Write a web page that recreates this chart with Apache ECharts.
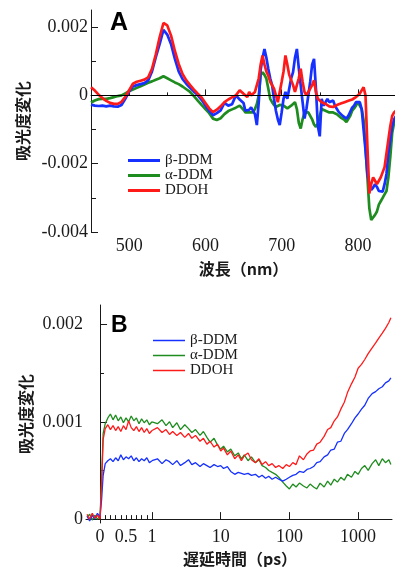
<!DOCTYPE html>
<html>
<head>
<meta charset="utf-8">
<script src="https://cdn.jsdelivr.net/npm/echarts@6/dist/echarts.min.js"></script>
<style>
  html, body { margin: 0; padding: 0; background: #fff; }
  #chart { width: 395px; height: 567px; }
</style>
</head>
<body>
<div id="chart"></div>
<script>
// ---- Panel A: difference spectra ----
const wavelengths = [
  450,455,460,465,470,475,480,485,490,495,500,505,510,515,520,525,530,535,540,545,
  550,555,560,565,570,575,580,585,590,595,600,605,610,615,620,625,630,635,640,645,650,
  652.5,655,657.5,660,662.5,665,667.5,670,672.5,675,677.5,680,682.5,685,687.5,690,692.5,695,697.5,700,
  702.5,705,707.5,710,712.5,715,717.5,720,722.5,725,727.5,730,732.5,735,737.5,740,742.5,745,747.5,750,
  752.5,755,757.5,760,762.5,765,767.5,770,772.5,775,777.5,780,782.5,785,787.5,790,792.5,795,797.5,800,
  802.5,805,807.5,810,812.5,815,817.5,820,822.5,825,827.5,830,832.5,835,837.5,840,842.5,845,847.5,850
];
const betaA = [
  -0.00027,-0.0003,-0.00031,-0.0003,-0.00032,-0.0003,-0.00032,-0.00033,-0.00028,-0.0001,
  0.00012,0.00026,0.0003,0.00033,0.00036,0.00044,0.0007,0.00112,0.0015,0.00192,
  0.00178,0.0015,0.00107,0.0007,0.00048,0.00034,0.00022,0.00011,0.00001,-0.00013,
  -0.0003,-0.00045,-0.00058,-0.00052,-0.00044,-0.00022,-0.0003,-0.00026,0.0,-0.00012,-0.00022,
  -0.00045,-0.0005,-0.00042,-0.00035,-0.00034,-0.00055,-0.00087,-0.0002,0.00075,0.0011,
  0.00136,0.0011,0.00078,0.0005,0.0003,-0.0001,-0.00045,-0.0007,-0.00087,-0.0005,
  -0.0001,0.0001,-0.0001,0.0002,0.0005,0.00068,0.0011,0.00136,0.0008,0.0003,
  -0.0002,-0.00068,-0.0004,0.0,0.0004,0.0009,0.00107,0.0002,-0.0009,-0.0012,
  -0.0001,-0.0003,-0.00034,-0.0001,-0.0002,-0.0002,-0.00015,-0.0003,-0.0004,-0.00049,
  -0.00052,-0.0006,-0.00065,-0.00068,-0.0006,-0.00048,-0.00036,-0.0003,-0.0002,-0.00015,
  -0.0002,-0.0004,-0.001,-0.0016,-0.0023,-0.0026,-0.00277,-0.0027,-0.0026,-0.00268,
  -0.0028,-0.0028,-0.00282,-0.0026,-0.0023,-0.0017,-0.0013,-0.0009,-0.0007,-0.0006
];
const alphaA = [
  -0.00021,-0.00015,-0.00011,-0.0001,-0.0001,-0.00008,-0.00005,-0.00002,0.0,0.00006,
  0.00012,0.00017,0.00022,0.00027,0.00032,0.00037,0.00041,0.00046,0.0005,0.00056,
  0.0005,0.00044,0.00038,0.00033,0.00026,0.00018,0.0001,-0.00002,-0.00015,-0.00028,
  -0.0004,-0.00052,-0.00068,-0.00072,-0.00067,-0.00055,-0.00046,-0.00041,-0.00036,-0.0003,-0.00042,
  -0.0005,-0.00053,-0.0005,-0.00048,-0.0005,-0.0004,-0.00025,0.0,0.0006,0.00068,
  0.0006,0.00049,0.0002,-0.0001,-0.0002,-0.00028,-0.00034,-0.0003,-0.00028,-0.0003,
  -0.0003,-0.00035,-0.00038,-0.0004,-0.0003,-0.00025,-0.0002,-0.0004,-0.0008,-0.00097,
  -0.0007,-0.0005,-0.0005,-0.0005,-0.00053,-0.0007,-0.00085,-0.00092,-0.00083,-0.0006,
  -0.0004,-0.0004,-0.00045,-0.0005,-0.0005,-0.0005,-0.0005,-0.00052,-0.00055,-0.0006,
  -0.00065,-0.00068,-0.00072,-0.00078,-0.0008,-0.0006,-0.00045,-0.00038,-0.0003,-0.0002,
  -0.00025,-0.0004,-0.00073,-0.0015,-0.0024,-0.0033,-0.00365,-0.0037,-0.0035,-0.0034,
  -0.0032,-0.0031,-0.003,-0.0029,-0.0028,-0.0024,-0.0018,-0.0011,-0.0008,-0.0007
];
const ddohA = [
  0.00024,0.00014,0.00002,-0.00008,-0.00016,-0.00022,-0.00025,-0.00025,-0.00019,-0.00004,
  0.00015,0.00034,0.0004,0.00043,0.00046,0.00053,0.00078,0.0012,0.0017,0.00212,
  0.00205,0.00175,0.0013,0.00092,0.00063,0.00044,0.0003,0.00017,0.00005,-0.00006,
  -0.00022,-0.00038,-0.00049,-0.00042,-0.00032,-0.0002,-0.00012,-0.00006,0.0,0.00015,0.00005,
  0.0,-0.00005,0.0001,0.0,0.0,0.0001,0.0003,0.0005,0.0009,0.00117,
  0.0009,0.0007,0.00058,0.0004,0.00035,0.0002,0.0,-0.0002,0.0001,0.00039,
  0.0007,0.00117,0.0009,0.0006,0.00058,0.0003,0.0001,0.0003,0.0005,0.00078,
  0.0004,0.0001,0.0,0.0001,0.0002,0.0003,0.00044,0.0001,-0.0001,-0.00015,
  -0.0002,-0.0002,-0.00025,-0.0003,-0.00032,-0.00034,-0.00034,-0.0003,-0.00028,-0.00025,
  -0.00024,-0.00024,-0.0002,-0.00018,-0.00016,-0.00015,-0.00012,-0.0001,-0.00005,0.0,
  0.00005,0.0001,0.00024,0.0,-0.0015,-0.00287,-0.0026,-0.0024,-0.0025,-0.0026,
  -0.0025,-0.0024,-0.0024,-0.0021,-0.0017,-0.0013,-0.0009,-0.0006,-0.0005,-0.00045
];
const wlLabels = [500, 600, 700, 800];
const wlMinor = [550, 650, 750];
const absTicksA = [-0.004, -0.002, 0, 0.002];
const absMinorA = [-0.003, -0.001, 0.001];

// ---- Panel B: kinetics (linear up to 1 ps, log after) ----
const delays = [
  -0.25,-0.2,-0.15,-0.1,-0.05,0,0.03,0.06,0.1,0.15,0.2,0.25,0.3,0.35,0.4,0.45,0.5,0.55,0.6,0.65,0.7,0.75,0.8,0.85,0.9,0.95,1,
  1.2,1.4,1.6,1.8,2,2.3,2.6,3,3.4,3.8,
  4.3,5,5.6,6.3,7,8,9,10,11,12.5,
  14,16,18,20,22,25,28,32,36,40,
  45,50,56,63,70,80,90,100,112,125,
  140,160,180,200,225,250,280,320,360,400,
  450,500,560,630,700,800,900,1000,1120,1250,
  1400,1600,1800,2000,2250,2500,2800,3000
];
const betaB = [
  0.00003,-0.00002,0.00004,0.0,0.00006,0.00002,0.0002,0.00045,0.00057,0.0006,0.00062,0.00059,0.00063,0.0006,0.00066,0.00061,0.00064,0.00062,0.00065,0.0006,0.00063,0.00059,0.00062,0.0006,0.00063,0.00058,0.0006,
  0.00062,0.00057,0.00061,0.00059,0.00056,0.0006,0.00055,0.00058,0.00061,0.00056,
  0.00058,0.00054,0.00057,0.00055,0.00053,0.00056,0.00054,0.00055,0.00052,0.00054,
  0.00049,0.00046,0.00048,0.00047,0.00046,0.00047,0.00045,0.00046,0.00043,0.00045,
  0.00042,0.00044,0.00041,0.00043,0.00041,0.00039,0.00041,0.00043,0.00045,0.00046,
  0.00049,0.00048,0.00051,0.00052,0.00054,0.00058,0.00059,0.00064,0.00066,0.00071,
  0.00072,0.00079,0.0008,0.00088,0.00092,0.00098,0.00104,0.00108,0.00113,0.00117,
  0.00124,0.00129,0.00131,0.00134,0.00136,0.0014,0.00142,0.00145
];
const alphaB = [
  0.00002,0.00005,-0.00001,0.00004,0.0,0.00003,0.0004,0.00088,0.00098,0.00104,0.00108,0.00102,0.00107,0.00101,0.00105,0.00099,0.00104,0.001,0.00106,0.00101,0.00104,0.00098,0.00103,0.00099,0.00102,0.00097,0.001,
  0.00098,0.00102,0.00096,0.001,0.00094,0.00099,0.00092,0.00097,0.00093,0.00089,
  0.00092,0.00086,0.0009,0.00084,0.00079,0.00083,0.00076,0.00072,0.00075,0.00069,
  0.00072,0.00065,0.00068,0.00062,0.00066,0.0006,0.00064,0.00058,0.00061,0.00055,
  0.00053,0.0005,0.00048,0.00046,0.00043,0.00038,0.00034,0.00031,0.00036,0.00033,
  0.00037,0.00034,0.00032,0.00036,0.00033,0.00031,0.00037,0.00033,0.00039,0.00035,
  0.00041,0.00038,0.00043,0.0004,0.00046,0.00043,0.00049,0.00046,0.00052,0.00055,
  0.0005,0.00057,0.00061,0.00055,0.00062,0.00058,0.00061,0.00056
];
const ddohB = [
  0.00005,0.0,0.00006,0.00001,0.00004,0.0,0.00035,0.00082,0.00093,0.00097,0.00092,0.00096,0.00091,0.00095,0.0009,0.00096,0.00092,0.00101,0.00094,0.00091,0.00095,0.0009,0.00094,0.00089,0.00093,0.00088,0.00091,
  0.00094,0.00089,0.00092,0.00087,0.0009,0.00086,0.00089,0.00084,0.00088,0.00083,
  0.00086,0.0008,0.00083,0.00077,0.0008,0.00074,0.00077,0.0007,0.00073,0.00066,
  0.0007,0.00062,0.00066,0.0006,0.00065,0.00068,0.00061,0.00058,0.00062,0.00056,
  0.00059,0.00055,0.00057,0.00053,0.00055,0.00052,0.00056,0.00054,0.00058,0.00056,
  0.00065,0.00061,0.00067,0.0007,0.00071,0.00077,0.00079,0.00085,0.00092,0.00094,
  0.00101,0.00105,0.00113,0.0012,0.0013,0.00139,0.00146,0.00155,0.00159,0.00164,
  0.0017,0.00176,0.00181,0.00186,0.00191,0.00196,0.00202,0.00207
];
const delayLinLabels = [0, 0.5];
const delayLinTicks = [0.1, 0.2, 0.3, 0.4, 0.5, 0.6, 0.7, 0.8, 0.9];
const delayLogTicks = [1, 10, 100, 1000];
const absTicksB = [0, 0.001, 0.002];
const absMinorB = [0.0005, 0.0015];

const names = ['β-DDM', 'α-DDM', 'DDOH'];
const colors = { 'β-DDM': '#1530ff', 'α-DDM': '#1f8c1f', 'DDOH': '#ff1a1a' };

const serif = '"Liberation Serif", "DejaVu Serif", serif';
const jp = '"Noto Sans CJK JP", sans-serif';
const ink = '#1a1a1a';

const absFmt = v => (v === 0 ? '0' : v.toFixed(3));
const pairs = (xs, ys) => xs.map((x, i) => [x, ys[i]]);
const linPart = ys => delays.map((t, i) => [t, ys[i]]).filter(p => p[0] <= 1);
const logPart = ys => delays.map((t, i) => [t, ys[i]]).filter(p => p[0] >= 1);

const chart = echarts.init(document.getElementById('chart'));

const majorAxis = {
  axisLine: { show: true, lineStyle: { color: ink, width: 1 } },
  splitLine: { show: false },
  axisLabel: { color: ink, fontFamily: serif, fontSize: 18 }
};
const minorAxis = {
  axisLine: { show: false },
  axisLabel: { show: false },
  splitLine: { show: false }
};

const spectraA = { 'β-DDM': betaA, 'α-DDM': alphaA, 'DDOH': ddohA };
const kineticsB = { 'β-DDM': betaB, 'α-DDM': alphaB, 'DDOH': ddohB };
const drawOrder = ['α-DDM', 'β-DDM', 'DDOH'];

const series = [];
drawOrder.forEach((n, k) => {
  const s = {
    name: n, type: 'line', xAxisIndex: 0, yAxisIndex: 0,
    data: pairs(wavelengths, spectraA[n]),
    symbol: 'none', color: colors[n],
    lineStyle: { width: 2.7, color: colors[n] }
  };
  if (k === 0) {
    s.markLine = {
      silent: true, symbol: 'none', label: { show: false },
      lineStyle: { color: '#000', width: 1, type: 'solid' },
      data: [{ yAxis: 0 }]
    };
  }
  series.push(s);
});
drawOrder.forEach(n => {
  series.push({
    name: n, type: 'line', xAxisIndex: 2, yAxisIndex: 2,
    data: linPart(kineticsB[n]), symbol: 'none', color: colors[n],
    lineStyle: { width: 1.3, color: colors[n] }
  });
  series.push({
    name: n, type: 'line', xAxisIndex: 4, yAxisIndex: 4,
    data: logPart(kineticsB[n]), symbol: 'none', color: colors[n],
    lineStyle: { width: 1.3, color: colors[n] }
  });
});

const legendItems = () => names.map(n => ({ name: n, icon: 'rect', itemStyle: { color: colors[n] } }));

const option = {
  animation: false,
  backgroundColor: '#fff',
  title: [
    { text: 'A', left: 110, top: 11, padding: 0,
      textStyle: { fontFamily: '"Liberation Sans", Arial, sans-serif', fontWeight: 'bold', fontSize: 25, color: '#000' } },
    { text: 'B', left: 111, top: 314, padding: 0,
      textStyle: { fontFamily: '"Liberation Sans", Arial, sans-serif', fontWeight: 'bold', fontSize: 23, color: '#000' } },
    { text: '遅延時間（ps）', left: 240, top: 551, padding: 0, textAlign: 'center',
      textStyle: { fontFamily: jp, fontWeight: 'bold', fontSize: 16, color: ink } }
  ],
  legend: [
    { data: legendItems(), orient: 'vertical', left: 128, top: 153, itemWidth: 32, itemHeight: 3, itemGap: 0,
      selectedMode: false, padding: 0,
      textStyle: { fontFamily: serif, fontSize: 15, color: ink } },
    { data: legendItems(), orient: 'vertical', left: 153, top: 333, itemWidth: 32, itemHeight: 1.5, itemGap: 0,
      selectedMode: false, padding: 0,
      textStyle: { fontFamily: serif, fontSize: 15, color: ink } }
  ],
  grid: [
    { left: 91, top: 10, width: 305, height: 222, outerBoundsMode: 'none' },
    { left: 86, top: 305, width: 66, height: 218, outerBoundsMode: 'none' },
    { left: 152, top: 305, width: 240, height: 218, outerBoundsMode: 'none' }
  ],
  xAxis: [
    Object.assign({}, majorAxis, {
      type: 'value', gridIndex: 0, min: 450, max: 850, position: 'bottom',
      axisTick: { show: true, inside: true, length: 6, customValues: wlLabels, lineStyle: { color: ink } },
      axisLabel: Object.assign({}, majorAxis.axisLabel, { customValues: wlLabels, margin: 5 }),
      name: '波長（nm）', nameLocation: 'middle', nameGap: 29,
      nameTextStyle: { fontFamily: jp, fontWeight: 'bold', fontSize: 16, color: ink }
    }),
    Object.assign({}, minorAxis, {
      type: 'value', gridIndex: 0, min: 450, max: 850, position: 'bottom',
      axisTick: { show: true, inside: true, length: 3, customValues: wlMinor, lineStyle: { color: ink } }
    }),
    Object.assign({}, majorAxis, {
      type: 'value', gridIndex: 1, min: -0.27, max: 1, position: 'bottom',
      axisTick: { show: true, inside: true, length: 4, customValues: delayLinTicks, lineStyle: { color: ink } },
      axisLabel: Object.assign({}, majorAxis.axisLabel, { customValues: delayLinLabels, margin: 5, formatter: v => String(v) })
    }),
    Object.assign({}, minorAxis, {
      type: 'value', gridIndex: 1, min: -0.27, max: 1, position: 'bottom',
      axisTick: { show: false }
    }),
    Object.assign({}, majorAxis, {
      type: 'log', gridIndex: 2, min: 1, max: 3113, position: 'bottom',
      axisTick: { show: true, inside: true, length: 7, customValues: delayLogTicks, lineStyle: { color: ink } },
      axisLabel: Object.assign({}, majorAxis.axisLabel, { customValues: delayLogTicks, margin: 5, formatter: v => String(Math.round(v)) }),
      minorTick: { show: false }
    })
  ],
  yAxis: [
    Object.assign({}, majorAxis, {
      type: 'value', gridIndex: 0, min: -0.004, max: 0.0025, position: 'left',
      axisTick: { show: true, inside: true, length: 7, customValues: absTicksA, lineStyle: { color: ink } },
      axisLabel: Object.assign({}, majorAxis.axisLabel, { customValues: absTicksA, margin: 3, formatter: absFmt }),
      name: '吸光度変化', nameLocation: 'middle', nameGap: 58,
      nameTextStyle: { fontFamily: jp, fontWeight: 'bold', fontSize: 16, color: ink }
    }),
    Object.assign({}, minorAxis, {
      type: 'value', gridIndex: 0, min: -0.004, max: 0.0025, position: 'left',
      axisTick: { show: true, inside: true, length: 5, customValues: absMinorA, lineStyle: { color: ink } }
    }),
    Object.assign({}, majorAxis, {
      type: 'value', gridIndex: 1, min: -0.00004, max: 0.0022, position: 'left',
      axisTick: { show: true, inside: true, length: 7, customValues: absTicksB, lineStyle: { color: ink } },
      axisLabel: Object.assign({}, majorAxis.axisLabel, { customValues: absTicksB, margin: 3, formatter: absFmt }),
      name: '吸光度変化', nameLocation: 'middle', nameGap: 52,
      nameTextStyle: { fontFamily: jp, fontWeight: 'bold', fontSize: 16, color: ink }
    }),
    Object.assign({}, minorAxis, {
      type: 'value', gridIndex: 1, min: -0.00004, max: 0.0022, position: 'left',
      axisTick: { show: true, inside: true, length: 4, customValues: absMinorB, lineStyle: { color: ink } }
    }),
    { type: 'value', gridIndex: 2, min: -0.00004, max: 0.0022, show: false }
  ],
  series: series
};

chart.setOption(option);
</script>
</body>
</html>
